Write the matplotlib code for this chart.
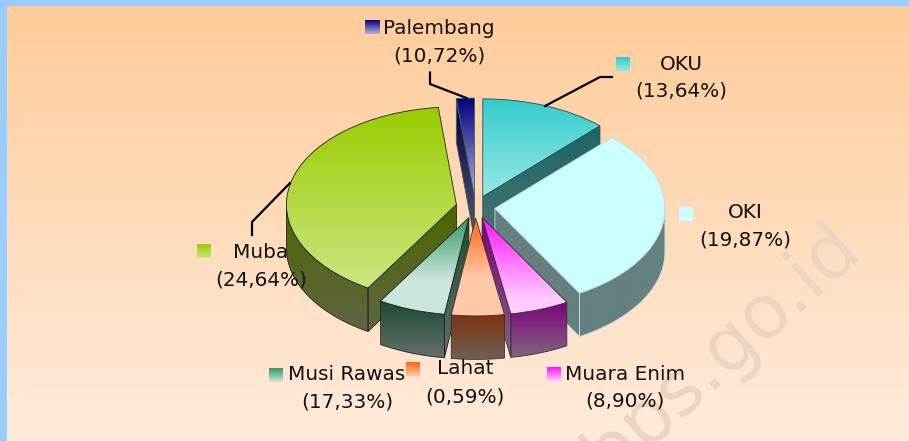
import numpy as np
import matplotlib
matplotlib.use("Agg")
import matplotlib.pyplot as plt
from matplotlib.colors import LinearSegmentedColormap
from matplotlib.patches import Polygon

W, H = 909, 441

# the drawn slices do not follow the printed percentages, so both are kept
names = ["OKU", "OKI", "Muara Enim", "Lahat", "Musi Rawas", "Muba", "Palembang"]
printed = ["(13,64%)", "(19,87%)", "(8,90%)", "(0,59%)", "(17,33%)", "(24,64%)", "(10,72%)"]
drawn_share = [12.1, 29.6, 5.6, 5.0, 6.4, 39.6, 1.7]

top_col = ["#33CCCC", "#CCFFFF", "#FF11FF", "#FF6611", "#339966", "#99CC00", "#000080"]
low_col = ["#99E6E6", "#CCFFFF", "#FFCCFF", "#FFC8A6", "#CCE6DC", "#CCE680", "#B3B3D9"]
wall_top = ["#1A6666", "#667F7F", "#800080", "#7F3311", "#1A4D33", "#4D6600", "#000040"]
wall_low = ["#4D7373", "#667F7F", "#7F667F", "#6F6055", "#666F6A", "#5F6645", "#59596C"]
edge_col = ["#2A4A4A", "#B8E0E0", "#333333", "#333333", "#222222", "#222222", "#336666"]
grad_end = [1.0, 1.0, 0.85, 0.6, 0.65, 1.0, 1.0]

# label text centres and legend keys, in image pixels
name_xy = [(681, 65), (745, 213), (625, 374), (465, 369), (347, 374), (261, 252), (439, 29)]
pct_xy = [(681, 91), (745, 240), (625, 401), (465, 397), (347, 402), (261, 280), (439, 56)]
key_xy = [(616, 57), (679, 207), (547, 367), (406, 362), (269, 368), (197, 244), (365, 20)]

rx, ry = 170.0, 97.7
cx, cy = 475.5, 207.0
depth = 43.5 / ry


def X(px):
    return (px - cx) / rx


def Y(py):
    return (cy - py) / ry


def grad(x0, x1, y0, y1, c1, c2, clip, z, end=1.0):
    cm = LinearSegmentedColormap.from_list("g", [c1, c2])
    vals = np.clip(np.linspace(0, 1, 128) / end, 0, 1)
    im = ax.imshow(vals[:, None], cmap=cm, extent=(x0, x1, y0, y1), vmin=0, vmax=1,
                   aspect="auto", origin="upper", zorder=z)
    if clip is not None:
        im.set_clip_path(clip)
    return im


fig = plt.figure(figsize=(W / 100, H / 100), dpi=100)
ax = fig.add_axes([0, 0, 1, 1])

wedges, _ = ax.pie(drawn_share, startangle=90, counterclock=False, radius=1,
                   explode=[0.115] * len(names))
ax.set_aspect("auto")

# background
grad(X(0), X(W), Y(H), Y(0), "#FFCC99", "#FFEBDC", None, 0)
ax.fill([X(0), X(W), X(W), X(7), X(7), X(0)], [Y(0), Y(0), Y(6), Y(6), Y(H), Y(H)],
        color="#99CCFF", zorder=0.5, lw=0)
ax.text(X(722), Y(350), "bps.go.id", rotation=42, fontsize=54, color="#EBD5C2",
        ha="center", va="center", family="DejaVu Sans", zorder=0.6, clip_on=True)

order = [6, 0, 5, 1, 4, 2, 3]
for n, i in enumerate(order):
    w = wedges[i]
    z = 2 + n
    x0, y0 = w.center
    t1, t2 = np.radians(w.theta1), np.radians(w.theta2)
    th = np.linspace(t1, t2, 120)
    ax_x = x0 + np.cos(th)
    ax_y = y0 + np.sin(th)
    ylo = min(ax_y.min(), y0)
    yhi = max(ax_y.max(), y0)

    # walls
    polys = []
    low = np.sin(th) < 0
    if low.any():
        polys.append(np.r_[np.c_[ax_x[low], ax_y[low]],
                           np.c_[ax_x[low], ax_y[low] - depth][::-1]])
    if np.cos(t1) > 1e-6:
        px, py = x0 + np.cos(t1), y0 + np.sin(t1)
        polys.append(np.array([[x0, y0], [px, py], [px, py - depth], [x0, y0 - depth]]))
    if np.cos(t2) < -1e-6:
        px, py = x0 + np.cos(t2), y0 + np.sin(t2)
        polys.append(np.array([[x0, y0], [px, py], [px, py - depth], [x0, y0 - depth]]))
    for p in polys:
        g = Polygon(p, closed=True, fc="none", ec=edge_col[i], lw=0.6, zorder=z + 0.2)
        ax.add_patch(g)
        grad(p[:, 0].min(), p[:, 0].max(), p[:, 1].min(), p[:, 1].max(),
             wall_top[i], wall_low[i], g, z + 0.1)

    # top face
    w.set(facecolor="none", edgecolor=edge_col[i], linewidth=0.6, zorder=z + 0.4)
    grad(min(ax_x.min(), x0), max(ax_x.max(), x0), ylo, yhi, top_col[i], low_col[i], w, z + 0.3,
         grad_end[i])

# leader lines
lead_x = [[430, 430, 466.5], [545, 600, 612], [290, 252, 252]]
lead_y = [[72.5, 84, 98], [106, 77, 77], [183, 222, 235]]
for lx, ly in zip(lead_x, lead_y):
    ax.plot(X(np.array(lx)), Y(np.array(ly)), color="black", lw=1.6, zorder=20,
            solid_joinstyle="round")

# labels and keys
for i in range(len(names)):
    ax.text(X(name_xy[i][0]), Y(name_xy[i][1]), names[i], fontsize=14.4, ha="center", va="center",
            color="#111111", zorder=30)
    ax.text(X(pct_xy[i][0]), Y(pct_xy[i][1]), printed[i], fontsize=14.4, ha="center", va="center",
            color="#111111", zorder=30)
    kx, ky = key_xy[i]
    grad(X(kx), X(kx + 14), Y(ky + 14), Y(ky), top_col[i], low_col[i], None, 25)

ax.set_xlim(X(0), X(W))
ax.set_ylim(Y(H), Y(0))
ax.axis("off")

fig.savefig("out.png", dpi=100)
